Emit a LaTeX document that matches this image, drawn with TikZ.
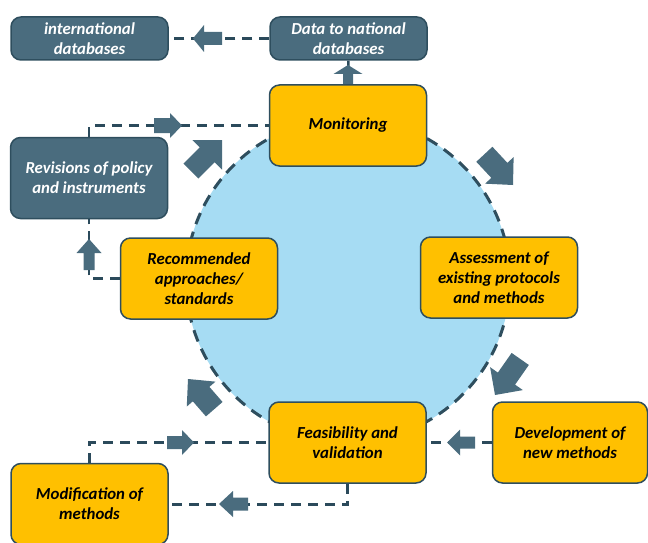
\documentclass[tikz,border=0pt]{standalone}
\usepackage{fontspec}
\setmainfont{Carlito}
\definecolor{slate}{RGB}{74,108,126}
\definecolor{slateborder}{RGB}{46,78,94}
\definecolor{lineclr}{RGB}{43,74,91}
\definecolor{gold}{RGB}{255,192,0}
\definecolor{skyblue}{RGB}{166,220,243}
\pgfdeclarelayer{bg}
\pgfsetlayers{bg,main}
\newcommand{\blockarr}[6]{%
  \fill[slate, shift={#1}, rotate=#2] (0,0) -- (-#4,#5/2) -- (-#4,#6/2) -- (-#3,#6/2) -- (-#3,-#6/2) -- (-#4,-#6/2) -- (-#4,-#5/2) -- cycle;}
\begin{document}
\begin{tikzpicture}[x=1pt,y=-1pt,
  boxbase/.style={rounded corners=10pt, line width=1.5pt, draw=slateborder, minimum width=157pt, minimum height=81pt, inner sep=0pt, align=center, font=\fontsize{16.8}{20}\selectfont\bfseries\itshape},
  darkbox/.style={boxbase, fill=slate, text=white},
  yellowbox/.style={boxbase, fill=gold, text=black},
  dashline/.style={draw=lineclr, line width=2.8pt, dash pattern=on 10pt off 7pt},
  solidline/.style={draw=lineclr, line width=2.5pt}]
\useasboundingbox (0,0) rectangle (648,543);
% boxes
\node[darkbox, minimum height=43pt] (intl) at (89.5,38.5) {international\\databases};
\node[darkbox, minimum height=43pt] (data) at (348.5,38.5) {Data to national\\databases};
\node[yellowbox] (mon) at (348,125.5) {Monitoring};
\node[darkbox] (rev) at (89,178) {Revisions of policy\\and instruments};
\node[yellowbox] (rec) at (199,278.5) {Recommended\\approaches/\\standards};
\node[yellowbox] (ass) at (499,277.5) {Assessment of\\existing protocols\\and methods};
\node[yellowbox] (feas) at (347.5,442.5) {Feasibility and\\validation};
\node[yellowbox, minimum width=155pt] (dev) at (570,442.5) {Development of\\new methods};
\node[yellowbox] (mod) at (89.5,504) {Modification of\\methods};
\begin{pgfonlayer}{bg}
% central circle
\filldraw[fill=skyblue, draw=slateborder, line width=3pt, dash pattern=on 12pt off 8pt] (348,280) circle[radius=162pt];
% connectors
\draw[dashline] (data.west) -- (intl.east);
\draw[solidline] (mon.north) -- (data.south);
\draw[dashline] (rev.north) |- (mon.west);
\draw[dashline] (rec.west) -| (rev.south);
\draw[dashline] (dev.west) -- (feas.east);
\draw[dashline] (mod.north) |- (feas.west);
\coordinate (fb) at ([yshift=-21pt]feas.south);
\draw[dashline] (feas.south) -- (fb) -- (fb -| mod.east);
\end{pgfonlayer}
% block arrows
\blockarr{(193,38.5)}{180}{29}{11}{27}{13}
\blockarr{(348,65)}{90}{19}{9}{29}{10}
\blockarr{(182,125.5)}{0}{28}{12}{25}{15}
\blockarr{(89,239)}{90}{31}{14}{25}{11}
\blockarr{(447,442.5)}{180}{28}{13}{26}{12}
\blockarr{(194,442.5)}{0}{27}{12}{25}{13}
\blockarr{(219,504)}{180}{29}{14}{26}{13}
% diagonal arrows
\blockarr{(222,140)}{45}{44}{21}{42}{21}
\blockarr{(513,185)}{-47}{42}{20}{39}{22}
\blockarr{(495,395)}{235}{44}{20}{40}{21}
\blockarr{(188,379)}{131}{40}{20}{38}{22}
\end{tikzpicture}
\end{document}
